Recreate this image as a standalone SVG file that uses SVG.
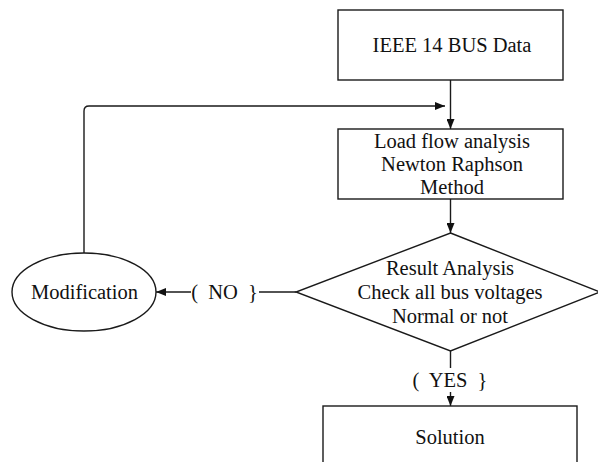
<svg xmlns="http://www.w3.org/2000/svg" width="598" height="462" viewBox="0 0 598 462">
<defs>
<marker id="ah" viewBox="0 0 10 8" refX="10" refY="4" markerWidth="10" markerHeight="8" markerUnits="userSpaceOnUse" orient="auto">
<path d="M0,0 L10,4 L0,8 Z" fill="#111"/>
</marker>
<style>
.shape{fill:#fff;stroke:#1a1a1a;stroke-width:1.4}
.conn{fill:none;stroke:#1a1a1a;stroke-width:1.4}
text{font-family:"Liberation Serif","Times New Roman",serif;font-size:20.5px;fill:#111;text-anchor:middle}
</style>
</defs>
<rect width="598" height="462" fill="#fff"/>
<g id="connectors">
<path class="conn" d="M450.5,80 V129" marker-end="url(#ah)"/>
<path class="conn" d="M84,253 V111 Q84,106 89,106 H445" marker-end="url(#ah)"/>
<path class="conn" d="M450.5,199 V233" marker-end="url(#ah)"/>
<path class="conn" d="M296,292 H259"/>
<path class="conn" d="M191,292 H156" marker-end="url(#ah)"/>
<path class="conn" d="M450.5,351 V368"/>
<path class="conn" d="M450.5,392 V406" marker-end="url(#ah)"/>
<text x="224.5" y="299" style="word-spacing:5px">( NO }</text>
<text x="450" y="387" style="word-spacing:5px">( YES }</text>
</g>
<g id="ieee">
<rect class="shape" x="338" y="10" width="225" height="70"/>
<text x="452" y="52">IEEE 14 BUS Data</text>
</g>
<g id="loadflow">
<rect class="shape" x="338" y="129" width="225" height="70"/>
<text x="452" y="148">Load flow analysis</text>
<text x="452" y="171">Newton Raphson</text>
<text x="452" y="194">Method</text>
</g>
<g id="result">
<polygon class="shape" points="450.5,233 600,292 450.5,351 296,292"/>
<text x="450" y="275">Result Analysis</text>
<text x="450" y="299">Check all bus voltages</text>
<text x="450" y="323">Normal or not</text>
</g>
<g id="modification">
<ellipse class="shape" cx="84" cy="292" rx="72" ry="39"/>
<text x="84.5" y="299">Modification</text>
</g>
<g id="solution">
<rect class="shape" x="323" y="406" width="254" height="70"/>
<text x="450" y="444">Solution</text>
</g>
</svg>
